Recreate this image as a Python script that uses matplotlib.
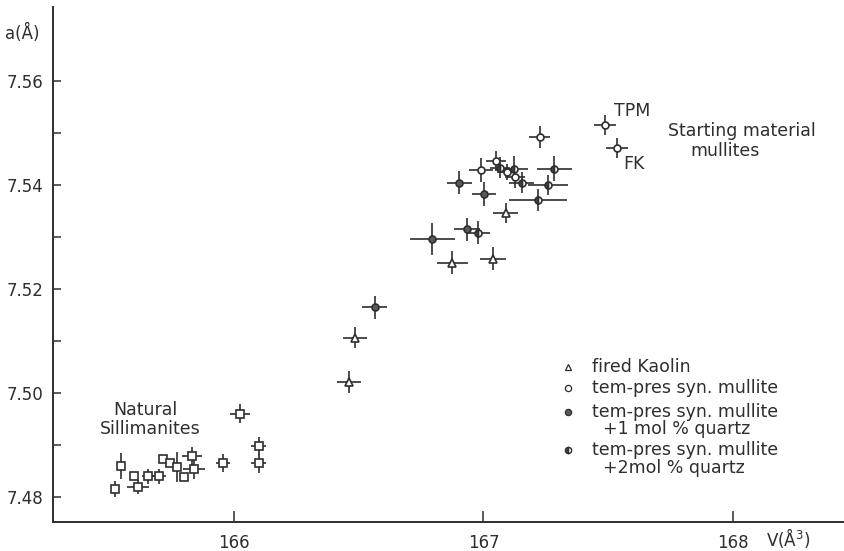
import matplotlib
matplotlib.use('Agg')
import matplotlib.pyplot as plt

# natural sillimanites (squares)
sill_v = [165.523, 165.547, 165.599, 165.615, 165.655, 165.699, 165.715, 165.743,
          165.772, 165.800, 165.832, 165.840, 165.956, 166.024, 166.100, 166.100]
sill_a = [7.4815, 7.4860, 7.4840, 7.4819, 7.4840, 7.4840, 7.4873, 7.4865,
          7.4858, 7.4838, 7.4879, 7.4854, 7.4865, 7.4960, 7.4898, 7.4865]
sill_dv = [0, 0, 0, 0.045, 0.025, 0.03, 0, 0, 0, 0, 0.04, 0.045, 0.03, 0.04, 0.03, 0.03]
sill_da = [0.0015, 0.0025, 0, 0.0014, 0.0014, 0.0014, 0, 0, 0.0029, 0, 0.0018, 0.002,
           0.0017, 0.0018, 0.0018, 0.0018]

# fired kaolin (triangles)
kao_v = [166.461, 166.485, 166.874, 167.040, 167.090]
kao_a = [7.5021, 7.5106, 7.5250, 7.5258, 7.5346]
kao_dv = [0.05, 0.05, 0.062, 0.052, 0.05]
kao_da = [0.0021, 0.002, 0.0022, 0.0022, 0.002]

# tem-pres syn. mullite
tp_v = [167.226, 166.990, 167.050, 167.094, 167.126]
tp_a = [7.5492, 7.5429, 7.5446, 7.5425, 7.5415]
tp_dv = [0.042, 0.05, 0.04, 0.04, 0.04]
tp_da = [0.0021, 0.0023, 0.002, 0.0015, 0.002]

# + 1 mol % quartz
q1_v = [166.565, 166.794, 166.902, 167.002, 166.934]
q1_a = [7.5165, 7.5296, 7.5404, 7.5383, 7.5315]
q1_dv = [0.05, 0.09, 0.05, 0.05, 0.053]
q1_da = [0.0022, 0.003, 0.0022, 0.0023, 0.0022]

# + 2 mol % quartz
q2_v = [166.978, 167.066, 167.122, 167.154, 167.283, 167.259, 167.218]
q2_a = [7.5308, 7.5433, 7.5431, 7.5404, 7.5431, 7.5400, 7.5371]
q2_dv = [0.05, 0.04, 0.056, 0.05, 0.07, 0.08, 0.115]
q2_da = [0.0022, 0.002, 0.0024, 0.002, 0.0024, 0.002, 0.0022]

# starting material mullites (TPM, FK)
start_v = [167.487, 167.535]
start_a = [7.5515, 7.5471]
start_dv = [0.044, 0.044]
start_da = [0.002, 0.002]

ink = '#2e2e2e'
W, H = 845, 551

fig = plt.figure(figsize=(W / 100, H / 100), dpi=100)
ax = fig.add_axes([53 / W, 29 / H, (W - 53) / W, (522 - 7) / H])

eb = dict(ls='none', ecolor=ink, elinewidth=1.2, capsize=0, mec=ink, mew=1.2)
ax.errorbar(sill_v, sill_a, xerr=sill_dv, yerr=sill_da, marker='s', ms=5.5, mfc='white', **eb)
ax.errorbar(kao_v, kao_a, xerr=kao_dv, yerr=kao_da, marker='^', ms=5.5, mfc='white', **eb)
ax.errorbar(tp_v, tp_a, xerr=tp_dv, yerr=tp_da, marker='o', ms=5, mfc='white', **eb)
ax.plot(tp_v, tp_a, ls='none', marker='o', ms=1.6, color=ink)
ax.errorbar(q1_v, q1_a, xerr=q1_dv, yerr=q1_da, marker='o', ms=5, mfc='#5a5a5a', **eb)
ax.errorbar(q2_v, q2_a, xerr=q2_dv, yerr=q2_da, marker='o', ms=5, mfc='#444444',
            fillstyle='left', markerfacecoloralt='white', **eb)
ax.errorbar(start_v, start_a, xerr=start_dv, yerr=start_da, marker='o', ms=5, mfc='white', **eb)

ax.set_xlim(165.2746, 168.449)
ax.set_ylim(7.4752, 7.5742)
ax.set_xticks([166, 167, 168])
ax.set_yticks([7.48, 7.49, 7.50, 7.51, 7.52, 7.53, 7.54, 7.55, 7.56])
ax.set_yticklabels(['7.48', '', '7.50', '', '7.52', '', '7.54', '', '7.56'])
ax.tick_params(axis='x', direction='in', length=8, width=1.1, color=ink,
               labelsize=12, labelcolor=ink, pad=9)
ax.tick_params(axis='y', direction='in', length=6, width=1.1, color=ink,
               labelsize=12, labelcolor=ink, pad=7)
for s in ['top', 'right']:
    ax.spines[s].set_visible(False)
for s in ['left', 'bottom']:
    ax.spines[s].set_color(ink)
    ax.spines[s].set_linewidth(1.4)


def px(x, y):
    return x / W, 1 - y / H


fs = 12.5
fig.text(*px(5, 33), 'a(Å)', fontsize=12, color=ink, va='center', ha='left')
fig.text(*px(766, 538), 'V(Å$^3$)', fontsize=12, color=ink, va='center', ha='left')

fig.text(*px(145, 410), 'Natural', fontsize=fs, color=ink, ha='center', va='center')
fig.text(*px(150, 429), 'Sillimanites', fontsize=fs, color=ink, ha='center', va='center')
fig.text(*px(614, 111), 'TPM', fontsize=fs, color=ink, ha='left', va='center')
fig.text(*px(623, 164), 'FK', fontsize=fs, color=ink, ha='left', va='center')
fig.text(*px(668, 131), 'Starting material', fontsize=fs, color=ink, ha='left', va='center')
fig.text(*px(690, 151), 'mullites', fontsize=fs, color=ink, ha='left', va='center')

# legend drawn by hand
leg_x = 568
rows = [(367, '^', 'white', 'fired Kaolin'),
        (388, 'o', 'white', 'tem-pres syn. mullite'),
        (412, 'o', '#5a5a5a', 'tem-pres syn. mullite'),
        (450, 'o', 'half', 'tem-pres syn. mullite')]
for y, m, fc, label in rows:
    fx, fy = px(leg_x, y)
    if fc == 'half':
        ax.plot([fx], [fy], marker=m, ms=4.5, mfc='#444444', mec=ink, fillstyle='left',
                markerfacecoloralt='white', transform=fig.transFigure, clip_on=False)
    else:
        ax.plot([fx], [fy], marker=m, ms=4.5, mfc=fc, mec=ink, mew=0.9,
                transform=fig.transFigure, clip_on=False)
    fig.text(*px(592, y), label, fontsize=fs, color=ink, ha='left', va='center')
fig.text(*px(603, 429), '+1 mol % quartz', fontsize=fs, color=ink, ha='left', va='center')
fig.text(*px(603, 468), '+2mol % quartz', fontsize=fs, color=ink, ha='left', va='center')

fig.savefig('out.png', dpi=100)
